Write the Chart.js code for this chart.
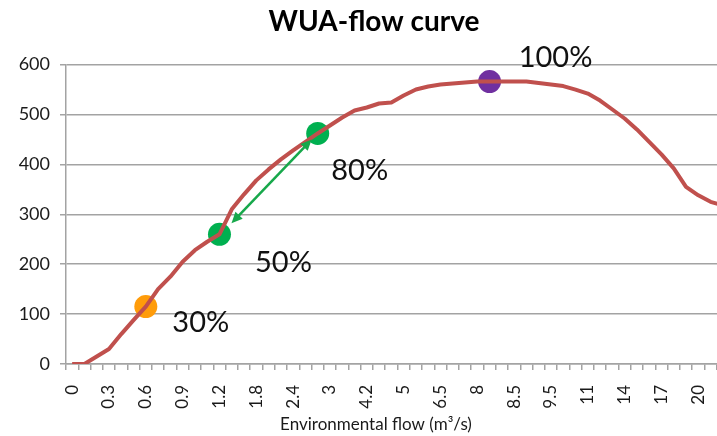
<!DOCTYPE html>
<html>
<head>
<meta charset="utf-8">
<script src="https://cdn.jsdelivr.net/npm/chart.js@4/dist/chart.umd.min.js"></script>
<style>
  html, body { margin: 0; padding: 0; background: #fff; overflow: hidden; }
  #chart { display: block; }
</style>
</head>
<body>
<canvas id="chart" width="745" height="436"></canvas>
<script>
// flow categories (m3/s), only every third one gets a tick label
var flow = [0, 0.1, 0.2, 0.3, 0.4, 0.5, 0.6, 0.7, 0.8, 0.9, 1, 1.1, 1.2, 1.4, 1.6, 1.8,
    2, 2.2, 2.4, 2.6, 2.8, 3, 3.4, 3.8, 4.2, 4.5, 4.8, 5, 5.5, 6, 6.5, 7, 7.5, 8,
    8.1, 8.3, 8.5, 9, 9.2, 9.5, 10, 10.5, 11, 12, 13, 14, 15, 16, 17, 18, 19, 20, 21, 22];

// weighted usable area for each flow
var wua = [0, 0, 15, 30, 60, 88, 115, 150, 175, 205, 228, 245, 260, 310, 340, 368, 390, 410,
    428, 445, 462, 478, 494, 508, 514, 522, 524, 538, 550, 556, 560, 562, 564, 566, 566, 566,
    566, 566, 563, 560, 557, 550, 542, 528, 510, 492, 470, 445, 420, 392, 355, 338, 325, 318];

// highlighted points on the curve
var markerIdx = [6, 12, 20, 34];
var markerLabels = ['30%', '50%', '80%', '100%'];
var markerColors = ['#ff9c0a', '#00b050', '#00b050', '#7030a0'];

var yTicks = [0, 100, 200, 300, 400, 500, 600];

var xTitle = 'Environmental flow (m³/s)';

var FONT = 'Lato, "Open Sans", sans-serif';
var GRID = '#a3a3a3';

var markerData = flow.map(function() { return null; });
var markerBg = flow.map(function() { return 'rgba(0,0,0,0)'; });
markerIdx.forEach(function(idx, i) {
    markerData[idx] = wua[idx];
    markerBg[idx] = markerColors[i];
});

// text next to each highlighted point, the double arrow between the green ones,
// and the x axis title (kept left of centre since the plot runs past the edge)
var annotations = {
    id: 'annotations',
    afterDatasetsDraw: function(chart, args, opts) {
        var ctx = chart.ctx;
        var pts = chart.getDatasetMeta(1).data;
        ctx.save();

        // double-headed arrow 50% <-> 80%
        var a = pts[markerIdx[1]], b = pts[markerIdx[2]];
        var x1 = a.x + opts.arrow.start[0], y1 = a.y + opts.arrow.start[1];
        var x2 = b.x + opts.arrow.end[0], y2 = b.y + opts.arrow.end[1];
        ctx.strokeStyle = opts.arrow.color;
        ctx.fillStyle = opts.arrow.color;
        ctx.lineWidth = 2.5;
        var ang = Math.atan2(y2 - y1, x2 - x1);
        var head = 11, half = 5;
        ctx.beginPath();
        ctx.moveTo(x1 + Math.cos(ang) * head * 0.8, y1 + Math.sin(ang) * head * 0.8);
        ctx.lineTo(x2 - Math.cos(ang) * head * 0.8, y2 - Math.sin(ang) * head * 0.8);
        ctx.stroke();
        [[x2, y2, ang], [x1, y1, ang + Math.PI]].forEach(function(h) {
            var c = Math.cos(h[2]), s = Math.sin(h[2]);
            ctx.beginPath();
            ctx.moveTo(h[0], h[1]);
            ctx.lineTo(h[0] - c * head - s * half, h[1] - s * head + c * half);
            ctx.lineTo(h[0] - c * head + s * half, h[1] - s * head - c * half);
            ctx.closePath();
            ctx.fill();
        });

        // percentage labels
        ctx.fillStyle = '#111';
        ctx.font = '29px ' + FONT;
        ctx.textAlign = 'center';
        ctx.textBaseline = 'middle';
        markerIdx.forEach(function(idx, i) {
            var p = pts[idx];
            var off = opts.offsets[i];
            ctx.fillText(markerLabels[i], p.x + off[0], p.y + off[1]);
        });

        // axis title
        ctx.fillStyle = '#1a1a1a';
        ctx.font = '17px ' + FONT;
        ctx.fillText(xTitle, chart.chartArea.left + opts.xTitle[0], chart.chartArea.bottom + opts.xTitle[1]);
        ctx.restore();
    }
};

new Chart(document.getElementById('chart'), {
    type: 'line',
    data: {
        labels: flow,
        datasets: [{
            data: wua,
            borderColor: '#c0504d',
            borderWidth: 4,
            pointRadius: 0,
            tension: 0,
            borderJoinStyle: 'round'
        }, {
            data: markerData,
            showLine: false,
            pointRadius: 11.5,
            pointBorderWidth: 0,
            pointBackgroundColor: markerBg,
            pointBorderColor: markerBg
        }]
    },
    options: {
        responsive: false,
        animation: false,
        layout: { padding: { left: 19, right: 16, top: 0, bottom: 0 } },
        plugins: {
            legend: { display: false },
            tooltip: { enabled: false },
            title: {
                display: true,
                text: 'WUA-flow curve',
                color: '#000',
                font: { family: FONT, size: 28, weight: 'bold' },
                padding: { top: 5, bottom: 26 }
            },
            annotations: {
                offsets: [[55, 16], [64, 28], [42, 37], [66, -24]],
                arrow: { color: '#17a84b', start: [12, -11], end: [-6, 6] },
                xTitle: [310, 61]
            }
        },
        scales: {
            x: {
                offset: true,
                grid: {
                    offset: true,
                    drawOnChartArea: false,
                    color: GRID,
                    lineWidth: 1.5,
                    tickLength: 6
                },
                border: { color: GRID, width: 1.5 },
                ticks: {
                    autoSkip: false,
                    minRotation: 90,
                    maxRotation: 90,
                    padding: 15,
                    color: '#1a1a1a',
                    font: { family: FONT, size: 17 },
                    callback: function(val, i) {
                        return i % 3 === 0 ? String(flow[i]) : '';
                    }
                },
                afterFit: function(s) {
                    s.height = 72;
                    // no extra room for the rotated end labels
                    s.paddingLeft = 0;
                    s.paddingRight = 0;
                }
            },
            y: {
                min: yTicks[0],
                max: yTicks[yTicks.length - 1],
                grid: { color: GRID, lineWidth: 1.5, tickLength: 6 },
                border: { color: GRID, width: 1.5 },
                afterBuildTicks: function(s) {
                    s.ticks = yTicks.map(function(v) { return { value: v }; });
                },
                ticks: {
                    padding: 10,
                    color: '#1a1a1a',
                    font: { family: FONT, size: 18 }
                },
                afterFit: function(s) { s.width = 47; }
            }
        }
    },
    plugins: [annotations]
});
</script>
</body>
</html>
